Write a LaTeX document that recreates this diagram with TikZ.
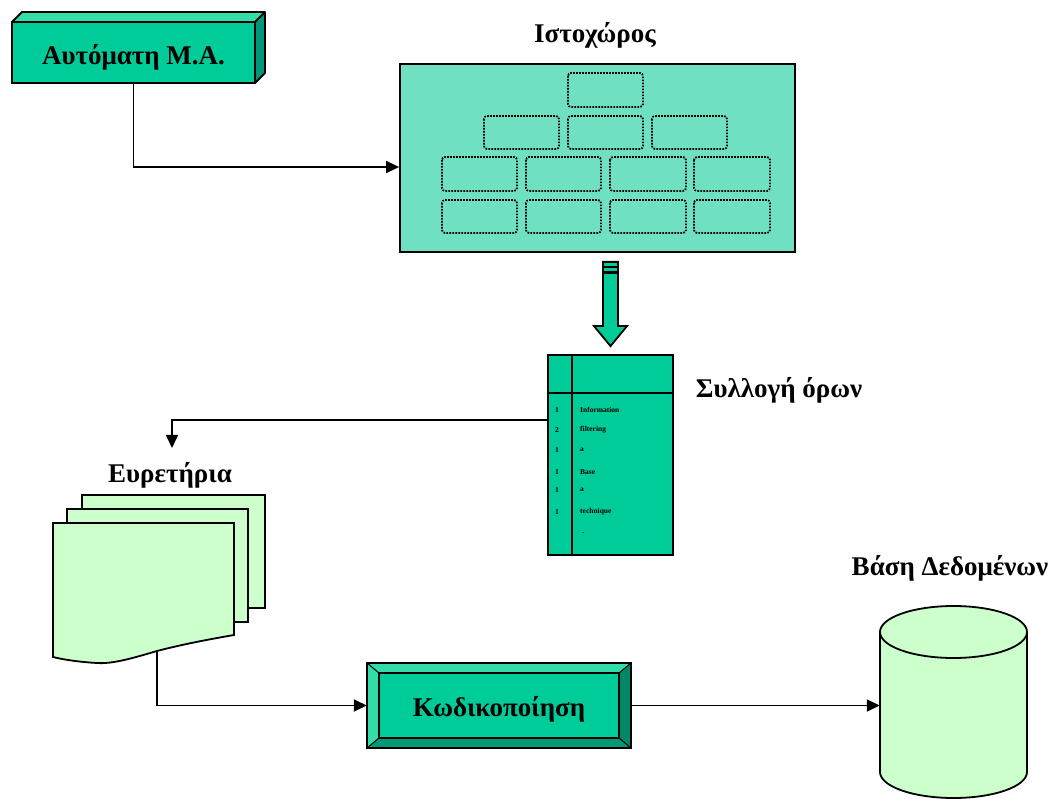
\documentclass[tikz,border=0pt]{standalone}
\usepackage{fontspec}
\setmainfont{Liberation Serif}
\usetikzlibrary{arrows.meta,calc}
\definecolor{tealmain}{HTML}{00CC99}
\definecolor{teallight}{HTML}{33DDAA}
\definecolor{tealdark}{HTML}{009977}
\definecolor{tealdeep}{HTML}{008866}
\definecolor{webfill}{HTML}{70E0C2}
\definecolor{palegreen}{HTML}{CCFFCC}
\tikzset{
  conn/.style={draw=black, line width=1.6pt, -{Triangle[length=13pt,width=12pt]}},
  outline/.style={draw=black, line width=1.8pt},
  biglabel/.style={font=\fontsize{27}{30}\selectfont\bfseries, inner sep=0pt},
  cellbox/.style={draw=black, line width=1.8pt, dash pattern=on 1.6pt off 1.4pt, rounded corners=3pt},
  tinytext/.style={font=\fontsize{7.5}{8}\selectfont\bfseries, inner sep=0pt},
}
\begin{document}
\begin{tikzpicture}[x=1pt,y=-1pt]
\useasboundingbox (0,0) rectangle (1053,799);

% ---- automatic indexing box (3D block) ----
\fill[teallight] (12,22) -- (22,12) -- (265,12) -- (255,22) -- cycle;
\fill[tealdark] (255,22) -- (265,12) -- (265,73) -- (255,83) -- cycle;
\draw[outline, line join=round] (12,22) -- (22,12) -- (265,12) -- (265,73) -- (255,83) (255,22) -- (265,12);
\node[outline, fill=tealmain, minimum width=243pt, minimum height=61pt, inner sep=0pt,
      font=\fontsize{27}{30}\selectfont\bfseries, text height=25pt, text depth=0pt]
      (auto) at (133.5,52.5) {Αυτόματη Μ.Α.};

% ---- web site ----
\node[biglabel, anchor=base] (webtitle) at (595,43) {Ιστοχώρος};
\node[outline, fill=webfill, minimum width=395pt, minimum height=188pt, inner sep=0pt]
      (web) at (597.5,158) {};
\draw[cellbox] (568,73) rectangle (643,107);
\foreach \xa/\xb in {484/559, 568/643, 652/727}
  \draw[cellbox] (\xa,116) rectangle (\xb,149);
\foreach \ya/\yb in {157/191, 200/233}
  \foreach \xa/\xb in {442/517, 526/601, 610/686, 694/770}
    \draw[cellbox] (\xa,\ya) rectangle (\xb,\yb);

\draw[conn] (auto.south) |- ([yshift=-9pt]web.west);

% ---- term collection table ----
\node[outline, fill=tealmain, minimum width=125pt, minimum height=200pt, inner sep=0pt]
      (terms) at (610.5,455) {};
\draw[outline] (572,355) -- (572,555);
\draw[outline] (548,393) -- (673,393);
\node[biglabel, anchor=base] (termstitle) at (779,398) {Συλλογή όρων};
\foreach \yy/\num/\word in {410/1/Information, 430/2/filtering, 450/1/a, 472/1/Base, 490/1/a, 512/1/technique}{
  \node[tinytext] at (557,\yy) {\num};
  \node[tinytext, anchor=west] at (580,\yy) {\word};
}
\node[tinytext] (dot) at (583,533) {.};

% ---- block arrow from web site to the table ----
\coordinate (a0) at ([yshift=-9pt]web.south -| terms.north);
\coordinate (a1) at ([yshift=8pt]terms.north);
\draw[outline, fill=tealmain, line join=miter]
  ($(a0)+(-7.5,0)$) -- ($(a0)+(7.5,0)$) -- ($(a1)+(7.5,-20)$) -- ($(a1)+(16.5,-20)$)
  -- (a1) -- ($(a1)+(-16.5,-20)$) -- ($(a1)+(-7.5,-20)$) -- cycle;
\draw[black, line width=1.5pt] ($(a0)+(-7.5,5)$) -- ($(a0)+(7.5,5)$);
\draw[black, line width=2.8pt] ($(a0)+(-7.5,10.5)$) -- ($(a0)+(7.5,10.5)$);

% ---- indexes (stacked documents) ----
\coordinate (idxin) at (172,448);
\draw[conn] ([yshift=35pt]terms.west) -| (idxin);
\node[biglabel, anchor=base] (idxtitle) at (170,483) {Ευρετήρια};
\draw[outline, fill=palegreen] (82,495) rectangle (265,608);
\draw[outline, fill=palegreen] (67,509) rectangle (248,622);
\draw[outline, fill=palegreen] (53,523) -- (234,523) -- (234,635)
  .. controls (205,640) and (180,645) .. (157,651)
  .. controls (130,659) and (112,664) .. (97,663)
  .. controls (80,662) and (65,660) .. (53,657) -- cycle;
\coordinate (docout) at (157,651);

% ---- coding box (bevelled) ----
\node[minimum width=264pt, minimum height=85pt, inner sep=0pt] (code) at (499,705.5) {};
\fill[teallight] (367,663) -- (631,663) -- (619,673) -- (379,673) -- cycle;
\fill[teallight] (367,663) -- (379,673) -- (379,738) -- (367,748) -- cycle;
\fill[tealdeep] (631,663) -- (631,748) -- (619,738) -- (619,673) -- cycle;
\fill[tealdark] (367,748) -- (631,748) -- (619,738) -- (379,738) -- cycle;
\draw[black, line width=1pt] (367,663) -- (379,673) (631,663) -- (619,673)
  (631,748) -- (619,738) (367,748) -- (379,738);
\draw[outline] (code.north west) rectangle (code.south east);
\node[outline, fill=tealmain, minimum width=240pt, minimum height=65pt, inner sep=0pt,
      font=\fontsize{27}{30}\selectfont\bfseries, text height=22pt, text depth=0pt]
      (codein) at (499,705.5) {Κωδικοποίηση};

\draw[conn] (docout) |- (code.west);

% ---- database cylinder ----
\node[biglabel, anchor=base] (dbtitle) at (950,575) {Βάση Δεδομένων};
\node[minimum width=147pt, minimum height=193pt, inner sep=0pt] (db) at (953.5,701.5) {};
\draw[outline, fill=palegreen] (880,632) -- (880,772)
  arc[start angle=180, end angle=360, x radius=73.5pt, y radius=26pt] -- (1027,632);
\draw[outline, fill=palegreen] (953.5,632) ellipse [x radius=73.5pt, y radius=26pt];

\draw[conn] (code.east) -- (code.east -| db.west);
\end{tikzpicture}
\end{document}
